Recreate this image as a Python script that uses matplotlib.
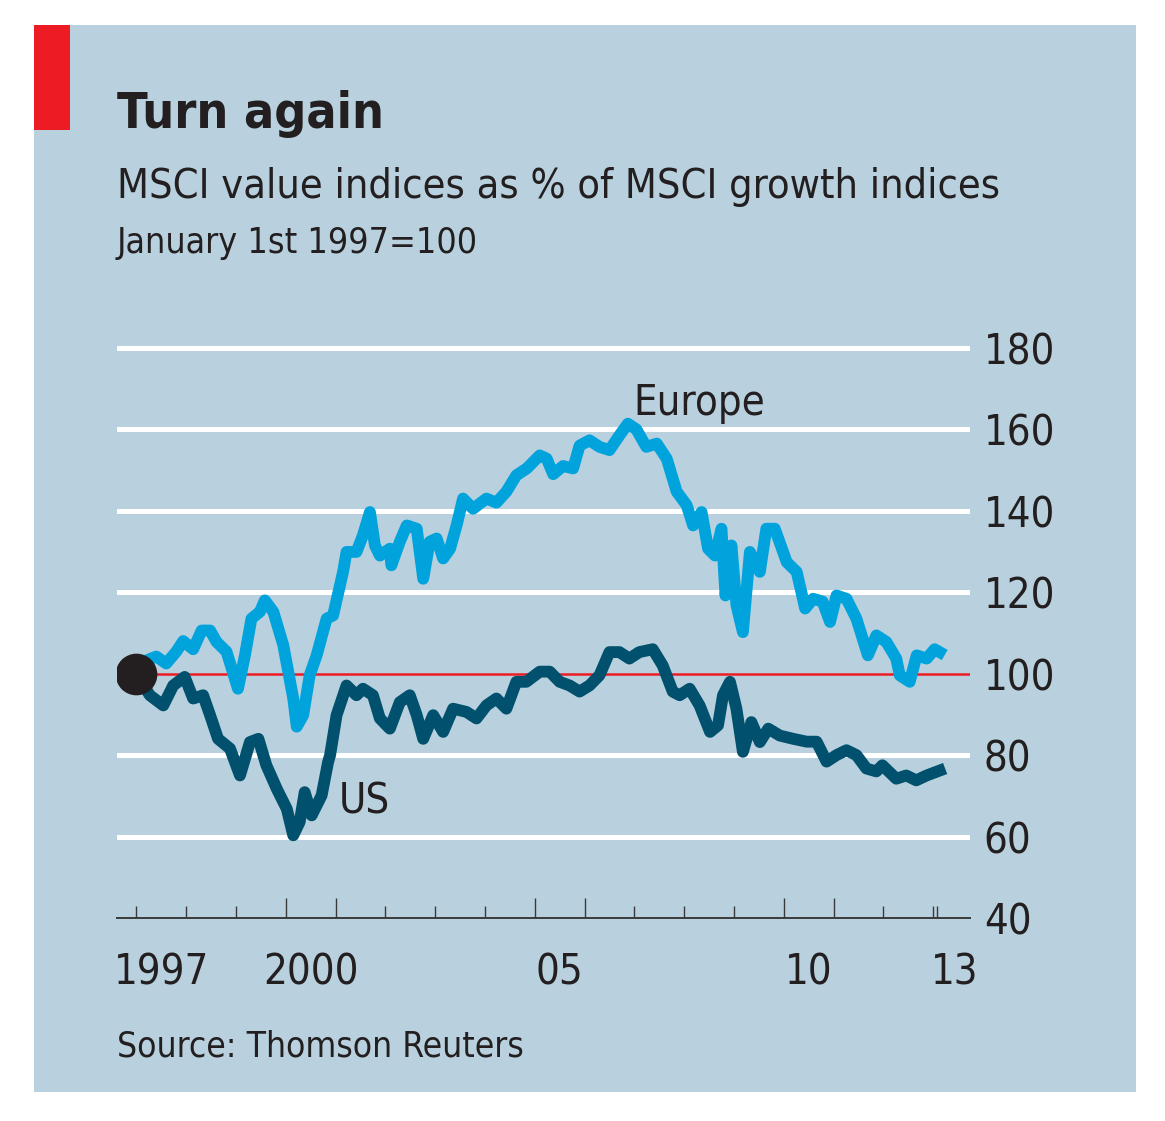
import matplotlib
matplotlib.use('Agg')
import matplotlib.pyplot as plt
import matplotlib.transforms as mtrans
from matplotlib.patches import Rectangle

plt.rcParams['font.family'] = ['DejaVu Sans']
plt.rcParams['font.stretch'] = 'condensed'

# ---- data: value index / growth index, Jan 1st 1997 = 100 ----
eu_year = [1997.00, 1997.15, 1997.40, 1997.60, 1997.80, 1997.94, 1998.14, 1998.31, 1998.48, 1998.61,
           1998.81, 1999.04, 1999.18, 1999.31, 1999.48, 1999.58, 1999.75, 1999.95, 2000.15, 2000.22,
           2000.35, 2000.48, 2000.62, 2000.82, 2000.95, 2001.15, 2001.22, 2001.42, 2001.55, 2001.69,
           2001.79, 2001.89, 2002.09, 2002.12, 2002.29, 2002.43, 2002.63, 2002.69, 2002.76, 2002.89,
           2003.03, 2003.16, 2003.30, 2003.43, 2003.56, 2003.76, 2004.03, 2004.23, 2004.43, 2004.63,
           2004.84, 2005.10, 2005.24, 2005.37, 2005.57, 2005.77, 2005.90, 2006.10, 2006.30, 2006.50,
           2006.70, 2006.87, 2007.04, 2007.24, 2007.45, 2007.65, 2007.85, 2008.05, 2008.18, 2008.35,
           2008.48, 2008.62, 2008.75, 2008.83, 2008.95, 2009.05, 2009.18, 2009.32, 2009.52, 2009.65,
           2009.82, 2010.06, 2010.26, 2010.43, 2010.59, 2010.78, 2010.93, 2011.06, 2011.26, 2011.46,
           2011.69, 2011.86, 2012.06, 2012.26, 2012.33, 2012.53, 2012.67, 2012.87, 2013.03, 2013.13]
eu_val = [100, 103, 104.2, 102.5, 105.4, 108, 106, 110.6, 110.6, 107.8,
          105.4, 96.3, 104.5, 113.5, 115.2, 118, 115.2, 107, 93.9, 87,
          89.8, 99.6, 104.5, 113.5, 114.3, 125, 129.9, 129.9, 134, 139.7,
          131.5, 129, 130.7, 126.6, 132.4, 136.4, 135.6, 129.9, 123.3, 132.4,
          133.2, 128.3, 130.7, 136.4, 143, 140.5, 143, 142, 144.7, 148.7,
          150.4, 153.6, 152.8, 149, 151, 150.4, 156, 157.3, 155.7, 154.9,
          158.5, 161.4, 160, 155.7, 156.5, 152.8, 144.7, 141.4, 136.4, 139.7,
          130.7, 129, 135.6, 119.2, 131.5, 116.8, 110.2, 129.9, 125, 135.6,
          135.6, 127.4, 125, 116, 118.4, 117.7, 112.7, 119.2, 118.4, 113.5,
          104.5, 109.4, 107.8, 103.7, 99.6, 98, 104.5, 103.7, 106, 105.3]

us_year = [1997.00, 1997.27, 1997.54, 1997.74, 1997.97, 1998.14, 1998.34, 1998.48, 1998.64, 1998.88,
           1999.08, 1999.28, 1999.45, 1999.61, 1999.82, 2000.02, 2000.15, 2000.28, 2000.38, 2000.52,
           2000.72, 2000.85, 2000.89, 2001.02, 2001.22, 2001.42, 2001.55, 2001.75, 2001.89, 2002.09,
           2002.29, 2002.49, 2002.63, 2002.76, 2002.96, 2003.16, 2003.36, 2003.63, 2003.83, 2004.03,
           2004.23, 2004.43, 2004.63, 2004.83, 2005.10, 2005.30, 2005.50, 2005.70, 2005.90, 2006.10,
           2006.30, 2006.50, 2006.70, 2006.90, 2007.10, 2007.37, 2007.57, 2007.77, 2007.91, 2008.11,
           2008.31, 2008.52, 2008.68, 2008.78, 2008.92, 2009.05, 2009.18, 2009.35, 2009.52, 2009.69,
           2009.92, 2010.19, 2010.46, 2010.66, 2010.86, 2011.06, 2011.26, 2011.46, 2011.66, 2011.86,
           2011.98, 2012.26, 2012.46, 2012.66, 2012.87, 2013.13]
us_val = [100, 94.7, 92.2, 97.1, 99.2, 93.9, 94.7, 89.8, 84, 81.6,
          75, 83.2, 84, 77.5, 71.7, 66.8, 60.3, 63.6, 70.9, 65.2,
          70.1, 78.3, 80, 89.8, 97.1, 94.7, 96.3, 94.7, 89, 86.5,
          93, 94.7, 89.8, 84, 89.8, 85.7, 91.4, 90.6, 89, 92.2,
          93.9, 91.4, 98, 98, 100.5, 100.5, 98, 97.1, 95.6, 97.1,
          99.6, 105.3, 105.3, 103.7, 105.3, 106, 102, 95.6, 94.7, 96.3,
          92.2, 85.7, 87.3, 94.7, 98, 91.4, 80.8, 88.1, 83.2, 86.5,
          84.8, 84, 83.3, 83.3, 78.4, 80, 81.2, 80, 76.7, 76,
          77.5, 74.2, 75, 73.8, 75, 76.2]

y_ticks = [40, 60, 80, 100, 120, 140, 160, 180]
grid_vals = [60, 80, 120, 140, 160, 180]
tall_ticks = [2000, 2001, 2005, 2006, 2010, 2011]
short_ticks = [1997, 1998, 1999, 2002, 2003, 2004, 2007, 2008, 2009, 2012, 2013, 2013.07]
x_labels = ['1997', '2000', '05', '10', '13']
x_label_pos = [1997.5, 2000.5, 2005.5, 2010.5, 2013.43]

BG = '#b9d1de'
EU_C = '#00a3dc'
US_C = '#00506e'
RED = '#ed1c24'
INK = '#231f20'

fig = plt.figure(figsize=(11.65, 11.21), dpi=100)
fig.patches.append(Rectangle((0.0292, 0.0259), 0.9458, 0.9518, transform=fig.transFigure,
                             facecolor=BG, edgecolor='none', zorder=-2))
fig.patches.append(Rectangle((0.0292, 0.884), 0.0309, 0.0937, transform=fig.transFigure,
                             facecolor=RED, edgecolor='none', zorder=-1))

ax = fig.add_axes([0.1004, 0.1811, 0.7322, 0.5267])
ax.set_facecolor('none')
ax.set_xlim(1996.61, 2013.74)
ax.set_ylim(40, 185)

for g in grid_vals:
    ax.axhline(g, color='white', lw=3.6, zorder=1)
ax.plot([1997, 2013.74], [100, 100], color=RED, lw=1.8, zorder=2)

ax.plot(eu_year, eu_val, color=EU_C, lw=8.5, zorder=3)
ax.plot(us_year, us_val, color=US_C, lw=8.5, zorder=4)
ax.plot([1997], [100], 'o', color=INK, ms=29, zorder=5)

ax.text(2006.98, 163.6, 'Europe', fontsize=30, color=INK, ha='left', va='baseline')
ax.text(2001.07, 65.6, 'US', fontsize=30, color=INK, ha='left', va='baseline')

# ---- axes ----
for s in ['top', 'left', 'right']:
    ax.spines[s].set_visible(False)
ax.spines['bottom'].set_color('#3a3a3a')
ax.spines['bottom'].set_linewidth(1.4)

ax.yaxis.tick_right()
ax.set_yticks(y_ticks)
ax.set_yticklabels([str(v) for v in y_ticks], fontsize=30, color=INK)
ax.tick_params(axis='y', length=0, pad=10)

ax.set_xticks(tall_ticks)
ax.set_xticks(short_ticks, minor=True)
ax.set_xticklabels([])
ax.tick_params(axis='x', which='major', direction='in', length=14.4, width=1, color='#3a3a3a')
ax.tick_params(axis='x', which='minor', direction='in', length=8.6, width=1, color='#3a3a3a')

tr = mtrans.blended_transform_factory(ax.transData, ax.transAxes)
for lab, xp in zip(x_labels, x_label_pos):
    ax.text(xp, -0.0915, lab, transform=tr, fontsize=30, color=INK, ha='center', va='center')

# ---- titles ----
fig.text(0.1004, 0.8858, 'Turn again', fontsize=36, fontweight='bold', color=INK, va='baseline')
fig.text(0.1004, 0.8234, 'MSCI value indices as % of MSCI growth indices', fontsize=29.7,
         color=INK, va='baseline')
fig.text(0.1004, 0.7743, 'January 1st 1997=100', fontsize=25.7, color=INK, va='baseline')
fig.text(0.1004, 0.0571, 'Source: Thomson Reuters', fontsize=25.4, color=INK, va='baseline')

plt.savefig('out.png', dpi=100)
plt.close()
